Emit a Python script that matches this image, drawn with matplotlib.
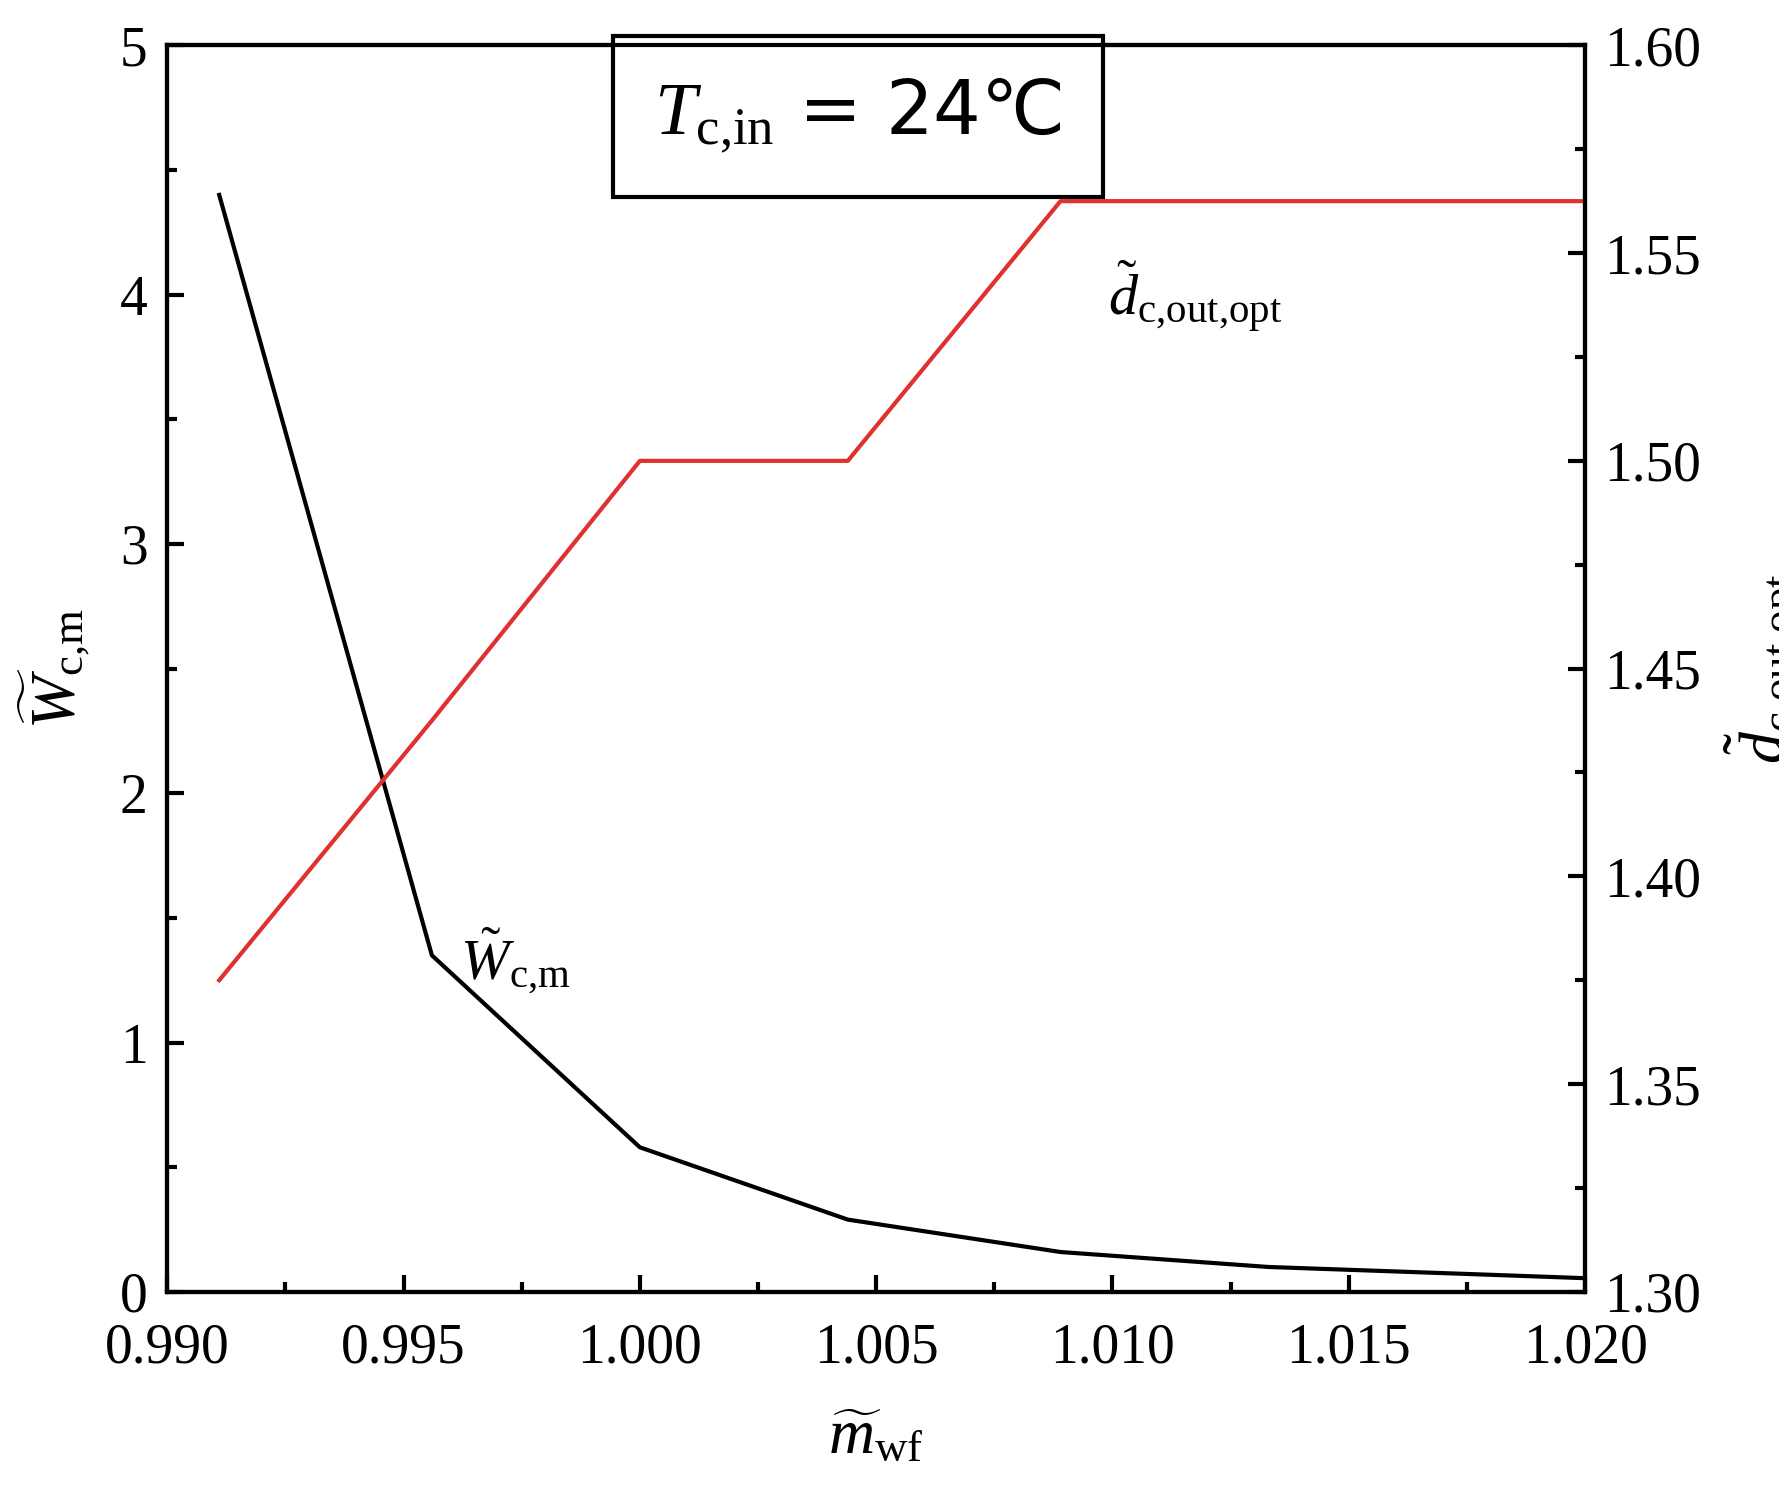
import matplotlib
matplotlib.use("Agg")
import matplotlib.pyplot as plt
from matplotlib.ticker import MultipleLocator, FormatStrFormatter

plt.rcParams['font.family'] = ['Liberation Serif', 'DejaVu Serif']
plt.rcParams['mathtext.fontset'] = 'custom'
plt.rcParams['mathtext.rm'] = 'Liberation Serif'
plt.rcParams['mathtext.it'] = 'Liberation Serif:italic'

m_wf = [0.9911, 0.9956, 1.0000, 1.0044, 1.0089, 1.0133, 1.0178, 1.0222]
W_cm = [4.40, 1.35, 0.58, 0.29, 0.16, 0.10, 0.07, 0.04]
d_opt = [1.375, 1.4375, 1.5, 1.5, 1.5625, 1.5625, 1.5625, 1.5625]

fig = plt.figure(figsize=(17.79, 15.11), dpi=100)
ax = fig.add_axes([0.094, 0.145, 0.797, 0.825])
ax.plot(m_wf, W_cm, color='black', lw=3)
ax.set_xlim(0.990, 1.020)
ax.set_ylim(0, 5)
ax.xaxis.set_major_locator(MultipleLocator(0.005))
ax.xaxis.set_minor_locator(MultipleLocator(0.0025))
ax.xaxis.set_major_formatter(FormatStrFormatter('%.3f'))
ax.yaxis.set_major_locator(MultipleLocator(1))
ax.yaxis.set_minor_locator(MultipleLocator(0.5))

ax2 = ax.twinx()
ax2.plot(m_wf, d_opt, color='#e03030', lw=3)
ax2.set_ylim(1.30, 1.60)
ax2.yaxis.set_major_locator(MultipleLocator(0.05))
ax2.yaxis.set_minor_locator(MultipleLocator(0.025))
ax2.yaxis.set_major_formatter(FormatStrFormatter('%.2f'))
ax.set_xlim(0.990, 1.020)

for a in (ax, ax2):
    for s in a.spines.values():
        s.set_linewidth(3)
    a.tick_params(which='major', direction='in', length=12, width=3, labelsize=40, pad=14)
    a.tick_params(which='minor', direction='in', length=7, width=3)
ax.tick_params(axis='x', pad=22)

ax.set_xlabel(r'$\widetilde{m}_{\mathrm{wf}}$', fontsize=46, labelpad=25)
ax.set_ylabel(r'$\widetilde{W}_{\mathrm{c{,}m}}$', fontsize=46, labelpad=20)
ax2.set_ylabel(r'$\tilde{d}_{\mathrm{c{,}out{,}opt}}$', fontsize=46, labelpad=15)

ax.text(0.9962, 1.25, r'$\tilde{W}_{\mathrm{c{,}m}}$', fontsize=42)
ax2.text(1.0099, 1.535, r'$\tilde{d}_{\mathrm{c{,}out{,}opt}}$', fontsize=42)

ax.text(0.487, 0.943, r'$T_{\mathrm{c{,}in}}$ = 24℃', transform=ax.transAxes, fontsize=54,
        va='center', ha='center', family=['DejaVu Sans'],
        bbox=dict(boxstyle='square,pad=0.55', fc='white', ec='black', lw=3))

fig.savefig('out.png', dpi=100)
